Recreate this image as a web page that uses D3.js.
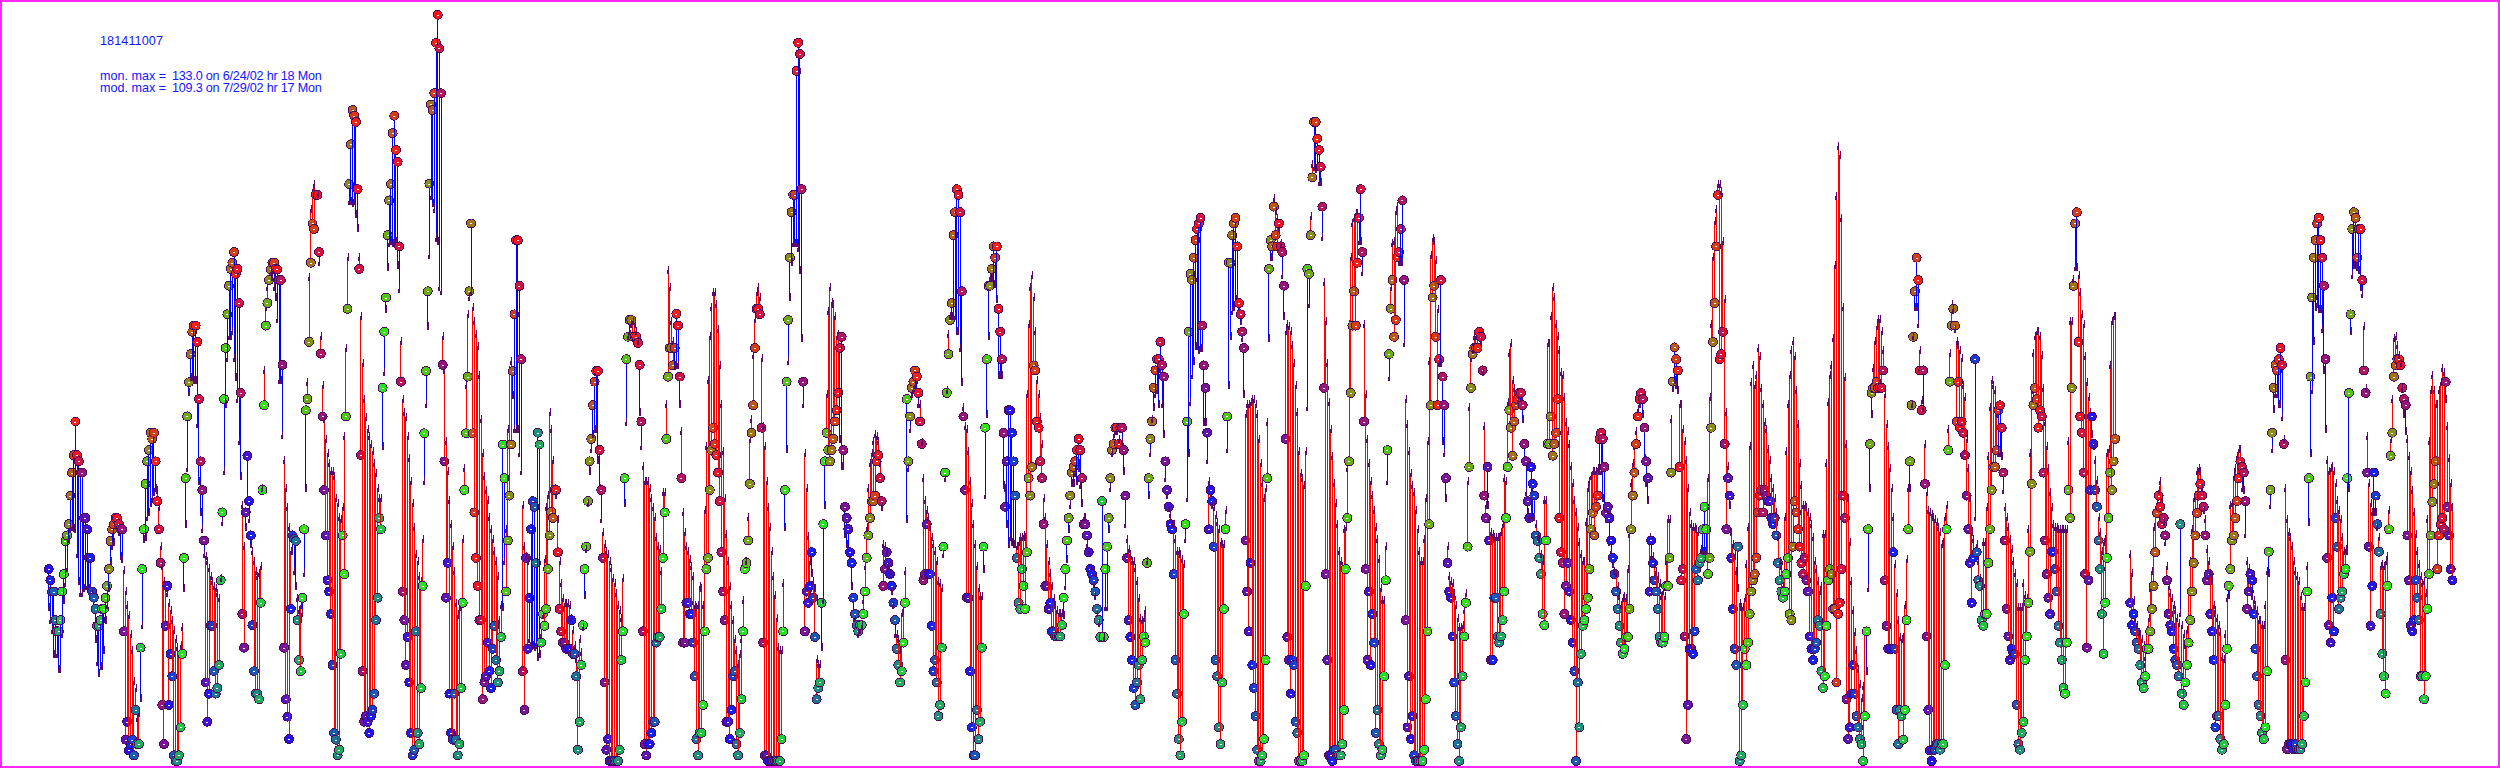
<!DOCTYPE html>
<html>
<head>
<meta charset="utf-8">
<script src="https://cdn.jsdelivr.net/npm/d3@7"></script>
<style>
  html, body { margin: 0; padding: 0; background: #fff; }
  svg { display: block; }
  text { font-family: "Liberation Sans", Arial, sans-serif; font-size: 12.6px; fill: #1414ff; }
</style>
</head>
<body>
<div id="chart"></div>
<script>
const siteId = "181411007";
const statLabels = ["mon. max =", "mod. max ="];
const statValues = ["133.0 on 6/24/02 hr 18 Mon", "109.3 on 7/29/02 hr 17 Mon"];
const firstDay = new Date(2002, 5, 15);

// hourly monitor values, one row per day starting 6/15/02 hr 0
const monitor = [
null,34.2,32.2,30.2,30.2,25.1,23.1,23.1,25.1,30.2,33.3,39.2,40.2,42.2,47.3,51.4,54.5,60.5,54.5,53.4,51.4,51.4,43.3,43.3,
41.3,36.2,36.2,30.2,29.1,27.1,24.1,24.1,25.1,27.1,27.1,29.1,31.2,34.2,39.2,41.3,42.2,43.3,43.3,42.2,41.3,41.3,23.1,3.8,
7,1.9,3,3.8,1,9.1,3,3,20.2,34.2,41.3,49.4,53.4,55.4,58.5,57.4,58.5,53.4,46.3,41.3,35.3,10,3,24.1,
31.2,10,19.1,15.1,1,0,0,1,6,19.1,36.2,50.4,61.4,67.5,72.5,76.5,77.6,77.6,74.7,64.5,53.4,48.3,39.3,14,
7,12,24.1,24.1,16,12,13,17.1,32.2,44.3,64.5,73.6,79.6,84.7,87.7,88.8,90.7,86.8,87.7,81.6,65.6,26.2,20.2,44.3,
54.4,46.3,40.2,24.2,16,12,12,11,28.2,48.3,63.4,77.6,81.6,85.7,87.6,88.8,88.8,87.7,87.6,85.7,85.7,70.6,20.2,11,
7.9,3.9,27.1,40.2,39.6,39.2,25.1,18,16,29.1,41.3,62.5,64.5,74.7,88.8,95.8,94.8,100.9,100.9,90.7,72.6,61.4,48.3,40.2,
32.2,30.2,26.2,17.1,5,3.8,1,2,19.1,40.2,33.3,61.4,80.6,102.8,109.9,116,115,113.9,101.9,87.7,54.5,16,7,8,
7,5,8,9.1,12,25.1,29.1,43.3,41.3,66.5,76.5,82.6,93.7,99.9,102.8,111.9,115,108.9,106.8,91.7,67.6,30.2,25.1,17.1,
22.1,14,5,1,2,23.1,5,3,13,31.2,58.4,69.5,83.7,102.9,117,116,119,128,133,127,119,70.6,53.4,29.1,
35.3,12,5,3.8,12,3.8,1,3,13,28.2,48.3,58.4,68.5,83.7,95.8,58.4,44.3,36.2,31.2,25.1,25.1,11,14,15.1,
21.1,16,13,20,24.1,18,14,16,22.1,56.4,50.4,30.2,39.3,47.3,56.4,69.5,79.6,92.8,92.8,84.7,71.6,16,9.1,36.2,
20,29.1,41.3,46.3,45.3,35.3,58.5,56.4,21.1,26.2,24.1,27.1,34.2,40.2,44.4,43.3,48.3,48.3,37.2,27.1,23.1,21.1,21.1,20,
20,20,25.1,19.1,19.1,15.1,2,7,17.1,24.2,34.2,38.2,46.3,53.4,57.4,63.4,67.6,69.5,69.5,55.4,48.3,36.2,14,2,
3.9,0,0,0,0,0,0,2,18,23.1,50.4,71.6,75.6,78.6,78.6,75.6,75.6,75.6,74.5,70.6,60.5,23.1,3,1,
3,3,5,7,7,21.1,22.1,22.1,27.1,36.2,44.3,57.4,68.5,73.6,73.6,70.5,73.6,79.7,77.6,68.5,50.4,21.1,21.1,28.2,
28.2,26.2,26.2,21.1,15.1,3.9,1,5,5,10,23.1,34.2,36.2,48.3,55.4,59.4,56.5,54.5,51.4,46.3,37.2,30.2,25.1,7,
7,3.9,9.1,15.1,16,3,1,5,11,23.1,34.2,35.3,39.3,49.4,58.5,63.4,73.6,80.6,80.6,79.6,59.4,21.1,1,1,
0,0,0,0,0,0,0,0,3.9,23.1,48.3,67.6,78.6,89.7,97.8,100.9,100.9,123,128,126,101.9,67.6,23.1,30.2,
28.2,31.2,37.2,29.1,22.1,11,13,14,28.2,42.2,53.4,58.5,55.4,53.4,55.4,57.4,60.5,62.5,65.6,73.6,75.6,55.4,45.3,43.3,
41.3,37.2,35.3,29.1,26.2,24.2,23.1,24.2,24.2,26.2,30.2,36.2,40.2,43.3,46.3,46.3,47.3,53.4,54.5,50.4,46.3,31.2,34.2,37.2,
35.3,33.3,31.2,28.2,25.1,20,17.1,14,16,21.1,28.2,64.5,53.4,61.4,66.5,67.6,69.6,68.5,65.6,60.5,56.5,32.2,33.3,42.2,
33.3,33.3,24.1,16,18,14,8,10,20.2,38.2,51.4,65.6,72.5,78.6,81.6,93.7,97.8,101.9,100.9,97.8,83.7,61.4,48.3,29.1,
29.1,16,6,1,1,9.1,3.9,7,20.2,38.2,59.4,71.6,84.7,84.7,87.7,91.7,89.7,91.7,80.6,76.5,71.6,58.5,45.3,53.4,
62.5,62.5,58.5,53.4,47.3,36.2,28.2,27.1,34.2,31.2,27.1,37.2,50.4,47.3,52.4,70.5,69.6,60.5,59.4,53.4,50.4,42.2,31.2,31.2,
27.1,28.2,23.1,23.1,22.2,22.2,22.2,22.2,24.2,29.1,34.2,39.3,43.3,47.3,51.4,52.4,53.4,55.4,57.4,55.4,50.4,42.2,42.2,40.2,
37.2,34.2,33.3,32.2,30.2,27.1,25.1,22.1,46.3,22.1,34.2,38.2,43.3,50.4,55.4,56.5,59.4,59.4,56.5,59.4,59.4,55.4,47.3,36.2,
25.1,22.1,18,13,10,14,17.1,11,18,22.2,21.1,35.3,50.4,57.4,60.5,66.5,69.6,71.6,71.6,74.7,70.6,68.5,53.4,48.3,
45.3,42.2,41.3,33.3,18,12,3.9,1,7,26.2,42.2,60.5,76.5,86.8,85.7,89.7,92.8,94.8,95.8,96.8,77.6,70.5,66.5,58.5,
41.3,48.3,46.3,38.2,18,15.1,6,3,14,27.1,41.3,61.4,88.8,88.8,93.7,95.8,96.8,91.7,81.6,79.6,76.5,73.6,39.3,30.2,
23.1,35.3,17.1,13,8,2,0,0,1,3.9,18,50.4,87.7,92.8,91.7,98.8,93.7,91.7,95.8,91.7,90.7,84.7,57.4,22.1,
18,12,18,17.1,7,5,0,0,0,1,31.2,87.7,86.8,93.7,104,113.9,113.9,110.9,108.9,105.9,98.8,66.5,33.3,18,
1,1,0,2,2,1,1,1,3,9.1,34.2,43.3,53.4,65.6,77.6,83.7,77.6,88.8,96.8,101.9,90.7,60.5,34.2,18,
30.2,17.1,26.2,21.1,5,9.1,3,1,2,15.1,32.2,55.4,72.5,80.6,85.7,75.6,78.6,89.8,90.7,94.8,99.9,85.7,25.1,6,
15.1,3.9,8,1,0,0,0,0,0,2,11,23.1,42.2,63.4,82.6,84.7,75.6,63.4,71.6,85.7,68.5,63.4,50.4,35.3,
30.2,29.1,22.2,14,8,3,0,6,15.1,22.2,28.2,38.2,52.4,66.5,72.5,73.6,73.6,73.6,76.5,75.6,69.6,47.3,43.3,52.4,
39.3,18,18,29.1,29.1,22.2,21.1,22.2,25.1,30.2,43.3,52.4,62.5,59.4,54.4,60.5,63.4,64.5,65.6,65.6,63.4,56.5,53.4,46.3,
43.3,52.4,49.4,47.3,40.2,39.2,36.2,33.3,26.2,24.2,39.3,56.5,56.5,61.4,54.4,56.5,58.5,64.5,43.3,37.2,35.3,26.2,31.2,35.3,
30.2,25.1,21.1,16,0,14,6,19.1,24.1,25.1,27.1,29.1,34.2,41.3,44.2,40.2,45.3,47.3,57.4,58.5,57.4,52.4,44.2,45.3,
43.3,39.3,36.2,33.3,30.2,27.1,24.1,21.1,19.1,20,22.1,22.1,27.1,41.3,47.3,51.4,56.5,61.4,64.5,65.6,64.5,59.4,53.4,50.4,
30.2,39.3,35.3,32.2,30.2,27.1,22.1,21.1,21.1,22.1,31.2,31.2,36.2,51.4,67.6,73.7,71.6,69.6,52.4,32.2,34.2,22.2,3.9,10,
20,20,19.1,23.1,34.2,32.2,35.3,36.2,41.3,45.3,41.3,33.3,36.2,59.4,74.7,81.6,91.7,100.9,71.6,72.5,76.5,56.5,41.3,50.4,
47.3,36.2,27.1,20,17.1,38.2,0,1,10,20,17.1,21.1,26.2,30.2,32.2,33.3,36.2,44.3,47.3,48.3,44.3,48.3,47.3,46.3,
46.3,43.3,42.2,43.3,40.2,35.3,32.2,30.2,29.1,30.2,33.3,36.2,26.2,25.1,38.2,46.3,44.3,41.3,38.2,35.3,33.3,36.2,32.2,30.2,
22.2,20,18,20,21.1,25.1,24.1,16,13,15.1,24.1,32.2,34.2,33.3,27.1,27.1,14,26.2,28.2,34.2,47.3,43.3,11,3.9,
6,12,17.1,12,8,6,3.9,3,0,8,23.1,41.3,56.5,65.6,66.5,66.5,67.6,66.5,66.5,66.5,69.6,32.2,24.1,20,
20,20,37.2,20,9.1,3,9.1,8,3.8,9.1,25.1,41.3,53.4,63.4,75.6,83.7,89.7,85.7,69.6,62.5,69.6,49.4,22.2,9.1,
1.9,0,2,2,3,3,2,3,3,17.1,41.3,55.4,67.6,77.6,80.6,77.6,60.5,67.6,59.4,60.5,58.5,54.5,47.3,41.3,
35.3,28.2,36.2,71.6,37.2,32.2,31.2,25.1,24.1,26.2,26.2,35.3,41.3,48.3,52.4,52.4,55.4,62.5,63.4,59.4,51.4,39.3,27.1,22.2,
18,20,19.1,19.1,10,3,2,5,7,18,22.2,28.2,37.3,49.4,63.4,66.5,64.5,59.4,62.5,61.4,51.4,39.3,33.3,29.1,
26.2,37.3,37.3,34.2,30.2,24.1,21.1,18,13,12,21.1,48.3,43.3,66.5,84.7,95.8,97.8,74.7,61.4,58.5,51.4,33.3,20.2,32.2,
48.3,61.4,56.5,48.3,45.3,39.3,34.2,26.2,19.1,28.2,36.2,43.3,51.4,48.3,53.4,57.4,null,null,null,null,null,null,null,null,
28.2,24.2,26.2,23.1,21.1,20,17.1,14,13,15.1,20,20,23.1,27.1,31.2,37.2,44.2,47.3,45.3,42.2,43.3,40.2,32.2,26.2,
24.2,23.1,20,18,17.1,15.1,42.2,12,10,14,17.1,21.1,25.1,30.2,35.3,40.2,44.2,47.3,49.4,47.3,45.3,40.2,32.2,33.3,
26.2,23.1,18,6,8,8,3.9,2,3,10,20,31.2,34.2,39.3,40.2,43.3,46.3,50.4,53.4,52.4,51.4,46.3,27.1,30.2,
33.3,32.2,26.2,20,15.1,10,8,5,3.9,6,16,37.3,48.3,58.5,66.5,70.6,69.6,71.6,73.6,70.6,56.5,18,2.1,3,
3,3,2.1,3,2.1,2.1,2.1,3,8,14,30.2,50.4,68.5,82.6,89.7,92.8,95.8,96.8,92.8,89.7,84.7,71.6,36.2,24.2,
21.1,29.1,23.1,43.3,38.2,27.1,29.1,30.2,33.3,34.2,50.4,65.6,79.6,94.8,97.8,96.8,89.7,94.8,94.8,85.7,69.6,65.6,51.4,38.2,
24.1,31.2,51.4,47.3,42.2,37.3,26.2,19.1,15.1,12,31.2,41.3,54.4,58.5,68.5,70.5,71.6,71.6,70.5,66.5,64.5,63.4,40.2,32.2,
24.1,23.1,25.1,32.2,29.1,25.1,15.1,15.1,11,15.1,27.1,33.3,40.2,46.2,49.4,53.4,34.2,40.2,42.2,43.3,41.3,67.6,45.3,40.2,
34.2,32.2
];

// hourly model values, same layout
const model = [
null,27,24.8,23,18.7,18.7,18.7,16,16,22.2,28.3,31.3,34,39.2,41,41.4,41.2,41,36.6,31.8,29.6,29.6,30.4,30.9,
30.9,30.4,30.4,29.6,26.5,21.3,17.3,15.3,16.5,16.5,19.5,24.8,27.4,30.4,35.3,37.9,38.7,42.2,41.4,40.5,36.1,35.7,33.7,30,
27.4,25.6,22.2,19.5,13.9,12.6,7.3,8.2,10.8,23.9,39.2,39.6,43.1,44,45.7,46.6,47.5,48.3,47.9,44.9,37.9,34.4,31.8,30.4,
29.6,27.8,26.5,24.8,23,21.3,20,18.7,20.4,23.5,30.4,41.8,51.8,65.4,68,68,67.6,67.6,59.7,49.6,44,41,36.6,36.1,
35.3,34,32.6,31.8,30.9,30.4,29.6,28.7,32.2,42.2,51.4,63.2,71.5,75.4,75.4,76.3,71.5,68,64.1,56.6,50.5,45.3,37.9,41.3,
46.6,42.7,38.3,37,35.3,33.5,32.6,33.1,34.4,48.3,69.3,80.6,84.1,87.2,86.8,85.9,84.1,82.4,78.5,67.6,67.6,57.7,53.2,48.3,
44.9,41.4,37,37,33.5,30.9,28.7,26.5,27.4,26.1,33.1,48.3,67.1,85.9,98.1,101.6,102.5,100.7,100.7,88.5,75.4,66.7,60.6,57.1,
54.5,52.7,51.4,51.4,50.5,46.6,45.7,43.1,42.7,44.9,57.5,73.2,89.4,99.4,99.4,99,99.4,97.2,94.6,89.4,78.9,70.6,64.1,61,
58.8,57.5,56.2,54.9,52.7,51,48.3,46.6,46.6,55.8,68.9,80.2,87.6,92,92.4,92,92,92.4,88,83.7,74.5,64.1,61.9,61,
57.5,53.6,49.6,45.7,41.4,36.6,35.3,32.6,31.8,39.2,49.6,63.2,77.2,89.8,100.3,99,98.1,92.9,92.4,84.1,83.4,75.4,69.3,56.6,
51.4,46.2,41.8,37.9,33.5,27.8,25.6,26.5,27,39.2,51.8,66.7,79.3,82.4,83.3,80.6,78,75.8,73.6,68.4,60.6,54.5,50.5,47.9,
46.2,43.1,41,39.2,37,35.3,32.6,24.8,27.4,27,35.3,41,58.8,69.3,71,64.9,58.8,58.8,58.8,54.5,51.4,45.3,37.9,36.1,
35.3,21.3,20.9,20.4,20,20.4,18.2,18.7,22.2,25.6,35.7,44.9,47,61.9,58.8,53.2,48.3,47,42.7,35.3,31.3,28.7,27.8,27.8,
27.8,27.4,25.2,23,20.4,17.8,16.9,21.3,19.1,23.5,29.2,37.4,45.7,51.4,55.3,58,58.8,58.8,53.2,48.3,42.7,40.5,38.3,37,
36.6,35.3,34,32.2,31.3,29.6,27.4,26.5,25.2,32.2,45.7,60.1,75.4,75.8,77.6,78,77.6,76.3,74.5,61.9,55.8,52.3,49.6,49.6,
49.6,48.3,46.6,44.9,43.1,39.6,37.9,37.4,33.5,47.5,47.5,63.2,87.2,84.1,78,74.5,70.2,70.2,70.2,63.2,58.4,44,40.5,37.9,
37,35.7,34.4,32.6,27.4,27,27.4,30.9,30.4,27.4,44.4,55.8,67.6,75.4,80.6,83.3,83.3,81.1,76.7,70.2,63.2,54.9,46.6,40.1,
35.3,30.9,27.4,24.8,21.3,19.5,16.9,18.7,21.3,28.3,35.3,35.3,43.1,57.1,60.6,72,78.5,83.3,84.1,82.4,71.5,59.3,55.8,49.6,
44.9,41.4,37,32.6,29.2,25.2,20,19.5,19.5,31.3,41.4,55.3,71,82.4,88.5,92,92,92,91.1,87.2,75,63.2,54.5,48.3,
39.7,35.3,33.1,31.8,30.4,17.8,16.9,16.9,19.9,28.3,45.3,65,79.8,84.1,81.5,81.1,78.9,75.4,75.8,57.1,52.3,52.3,40.1,38.3,
37,35.3,30.9,24.3,24.8,23.9,22.2,23,23.9,28.3,34.4,41.4,48.3,52.7,54.5,56.7,58,57.5,56.7,52.7,44.9,38.3,37.9,37,
34.4,33.1,30,27.4,22.2,22.2,21.3,19.5,26.1,26.5,33.5,42.7,51.8,58.8,65,65.8,66.7,65.4,63.2,63.2,56.5,50.1,46.2,44.4,
43.1,41.4,39.6,38.3,37,35.3,31.8,31.3,30.4,36.6,50.1,65.8,75.8,78.9,78.9,78.9,78.9,76.3,76.3,73.2,67.1,62.7,59.3,58.8,
54.9,49.6,45.7,41.8,38.3,34.4,30.4,29.1,29.1,33.9,47,61.4,75.4,85.9,85.9,84.6,84.6,82,68.4,68.4,68.4,48.8,48.3,41.8,
38.3,39.6,38.7,38.3,38.3,37.9,38.7,39.6,39.6,40,39.6,65,77.6,84.1,86.3,82.4,76.3,67.6,65,61,56.2,46.6,43.1,38.3,
35.3,33.1,30.9,28.7,27.4,26.5,26.1,26.1,26.1,25.6,30.9,35.7,41,45.3,49.2,49.2,51,49.6,51.8,48.8,45.7,43.1,43.1,38.3,
37,33.5,32.2,30.9,29.1,25.6,24.3,21.7,22.2,21.7,27,27,41,48.3,54.5,57.9,58.4,58.4,57.1,58.8,56.7,51.4,41.8,39.2,
37.4,36.6,35.3,35.3,34,31.8,28.7,25.2,24.8,25.2,26.5,35.3,47,54.5,60.6,62.8,65,65.8,63.2,68.4,63.2,58,50.1,47,
44.9,43.6,41.8,41.8,39.2,37,37,36.6,35.7,34.8,39.2,46.6,54.5,63.6,68.4,71,73.6,73.6,72.8,73.2,73.2,60.1,60.1,53.2,
49.6,47,45.3,44.9,43.5,42.2,41,38.7,38.3,38.3,44.4,55.3,66.7,75.4,79.8,80.6,82,82,79.8,78,75,65,61.4,63.2,
63.2,63.6,64.1,64.1,63.2,61.4,57.1,52.7,49.2,46.6,48.3,60.1,75,89.4,89.4,99.9,97.7,96.4,94.6,92,86.3,78.9,76.3,77.6,
77.2,76.3,73.7,70.6,66.7,61.9,54.9,51,50.1,48.8,54.9,62.7,81.1,96.8,106,105.5,105.1,105.5,102.9,102.9,93,85,78,70.6,
63.6,58.8,54,49.2,45.7,41.8,37,35.3,34.4,41,41.4,51.8,77.6,89.4,95.5,96.4,97.3,97.3,92.4,92.4,86.8,77.6,65,57.1,
52.7,49.6,47,44.4,41.4,39.2,35.7,30.4,28.3,28.3,37.9,49.6,68,84.2,92,92.4,97.7,98.6,88.5,88.5,88.5,74.1,64.1,59.7,
54.9,51,48.8,47.5,44.4,41,37,35.3,35.3,39.2,46.6,56.7,71,89.8,92.9,92.4,89,80.2,70.6,70.6,56.7,54.5,46.6,37.9,
32.6,31.8,31.3,29.6,27.4,25.2,23.5,23.5,23.9,26.5,29.6,49.6,62.8,71.5,72.8,75.4,75.4,75.4,75.4,74.5,68.9,59.3,45.3,45.3,
42.7,40.5,40.1,39.6,39.6,39.6,39.6,40.5,41.8,50.1,49.6,63.6,72.4,74.1,67.6,66.2,64.9,64,64.9,64,60.6,53.2,47.5,44,
43.1,43.5,43.1,43.1,41.8,39.6,39.2,36.6,35.3,46.2,46.2,74.1,74.1,78.9,84.1,82.4,77.6,75.4,72.8,68.9,68.4,64.5,60.1,58.4,
56.2,52.3,49.2,46.2,44,41.4,38.7,36.6,35.3,35.3,42.2,48.3,49.6,50.5,51.4,51.4,51.4,51.8,51.4,51.4,46.6,44.9,42.7,42.7,
38.7,37,34.8,33.5,33.1,30.9,29.1,27.4,28.7,29.1,28.7,33.9,40.1,49.2,52.7,55.8,58.4,62.3,63.2,64,61.4,53.6,49.2,46.2,
39.6,36.1,36.1,34.8,33.5,32.6,31.3,29.1,30,29.1,35.3,42.7,42.7,60.6,66.2,67.6,66.7,65.8,63.2,63.2,58.8,56.7,53.2,48.3,
44,41.8,41.4,41.4,41,40.5,36.6,37.4,37,37,36.6,50.1,64.5,77.6,89.4,95.9,98.1,102.5,102.5,101.2,92.4,82,61.9,52.3,
45.3,40.5,38.3,36.6,33.5,30.4,27.8,27,27,28.7,34.8,41.4,55.8,67.1,70.2,66.7,68.4,73.2,71.9,66.2,63.2,60.1,58.8,55.3,
53.2,50.1,48.3,46.6,44,39.6,35.3,34.4,30.9,43.1,54.9,63.2,68.4,72.8,74.5,71.9,65.8,59.7,52.7,48.8,45.3,45.3,44.9,44,
43.1,41.8,39.6,35.3,33.9,31.8,30,30.9,40.1,40.1,52.7,63.6,68.4,70.2,75,88.1,100.3,109.3,107.7,96.4,80.6,68,56.2,46.6,
38.7,31.8,26.5,22.6,19.5,16.1,13.4,10.8,13,22.6,15.6,30.4,48.3,61.4,69.7,74.5,77.2,78.5,78.5,76.3,72.8,65,59.7,55.8,
51.8,48.3,43.1,34.8,29.6,24.8,21.7,21.3,21.7,27.4,35.7,48.3,48.3,63.2,75.4,80.6,80.6,77.6,72.8,64,62.5,56.2,47.5,44.4,
44,43.6,43.1,42.7,42.2,41.4,40.5,38.3,38.7,43.1,45.3,58.8,72.4,81.1,80.2,76.7,74.5,73.7,72.8,71.5,66.7,64.5,57.1,51.8,
46.6,40.5,39.2,43.1,38.3,35.3,32.2,30.9,38.7,38.7,44.9,54,62.7,67.6,66.7,65.8,61.4,54.5,54.5,54,47.9,44.9,43.1,41.4,
39.2,37.4,35.3,33.1,31.3,27,27,27,31.3,29.2,28.7,41,54.5,65.8,72.4,75.4,76.3,76.3,75.4,72,66.2,60.1,55.8,51.8,
47.5,44.9,41.8,41.4,41.4,41,41,41,41,41,41,56.7,78,78,85.5,87.6,87.6,86.3,83.3,79.3,77.6,71.9,67.1,64.5,
61.9,58,55.8,53.2,49.7,43.1,40.5,37,38.7,39.2,54.5,55.3,70.2,78,78.9,78.9,null,null,null,null,null,null,null,null,
36.6,33.1,28.3,25.2,23.9,22.6,22.2,21.3,20.4,18.2,23,25.2,30.4,33.5,41.4,44.4,45.7,47.9,49.6,46.6,42.2,38.7,34.4,30.9,
29.6,28.7,27.4,26.5,25.2,24.3,26.1,23.9,22.2,20.4,23,30,35.3,41,46.6,47,51.4,51.8,51.4,48.3,44.4,42.7,37.4,35.3,
33.1,31.8,27.4,26.5,25.2,23.9,22.6,18.2,17.8,22.2,28.7,29.2,45.3,45.7,50.5,51.8,54,55.3,55.3,48.3,47.9,40.1,35.3,34,
30.4,29.1,28.3,27.4,26.5,24.8,24.8,23.9,23.9,27.4,33.5,33.1,45.3,55.3,62.3,65,65,63.2,63.2,61,57.1,48.3,42.7,40.5,
39.6,37.9,35.3,33.5,32.6,31.8,29.1,27,27,30,34.4,42.2,54.5,65.8,74.5,80.6,81.1,80.2,80.2,76.7,69.3,58.8,53.2,51.4,
51.8,52.3,51.4,49.2,46.2,44.4,42.7,39.6,37,37.4,37,48.3,76.3,86.3,88,88,87.6,87.2,84.1,82.8,77.2,66.2,57.5,49.2,
45.7,44,44,44,41.4,39.6,34.4,34.8,34.4,35.3,36.1,44.4,57.1,64.1,75,75.4,73.7,72,70.6,66.2,61.4,58.4,57.1,54,
51.4,47.9,44,40.1,37,34.8,32.6,31.3,31.8,29.6,42.7,56.7,65.8,68.4,65.8,63.2,63.2,65.8,67.1,69.7,68.9,64.1,59.3,53.6,
49.2,44.9
];

const width = 2500;
const height = 768;

const hours = monitor
  .map((mon, i) => ({ i, mon, mod: model[i], hour: i % 24 }))
  .filter((d) => d.mon !== null && d.mod !== null);

const X = d3.scaleLinear().domain([0, 1441]).range([47.1, 2452.4]);
const Y = d3.scaleLinear().domain([0, 133]).range([761, 14.7]);

// colour follows the hour of day round blue, green, red
const hourColor = d3
  .scaleLinear()
  .domain([1.5, 9.5, 17.5, 25.5])
  .range(["#1414ff", "#28f014", "#ff1414", "#1414ff"]);
const colorOf = (d) => hourColor(d.hour < 1.5 ? d.hour + 24 : d.hour);

const svg = d3
  .select("#chart")
  .append("svg")
  .attr("width", width)
  .attr("height", height);

svg
  .append("rect")
  .attr("x", 1)
  .attr("y", 1)
  .attr("width", width - 2)
  .attr("height", height - 2)
  .attr("fill", "#fff")
  .attr("stroke", "#ff28ff")
  .attr("stroke-width", 2);

const marks = svg
  .append("g")
  .attr("shape-rendering", "crispEdges")
  .selectAll("g")
  .data(hours)
  .join("g");

marks
  .append("line")
  .attr("x1", (d) => X(d.i))
  .attr("x2", (d) => X(d.i))
  .attr("y1", (d) => Y(d.mon))
  .attr("y2", (d) => Y(d.mod))
  .attr("stroke", (d) => (d.mod > d.mon ? "#ff0000" : "#0000ff"))
  .attr("stroke-width", 1);

marks
  .append("circle")
  .attr("cx", (d) => X(d.i))
  .attr("cy", (d) => Y(d.mon))
  .attr("r", 4.5)
  .attr("fill", colorOf)
  .attr("stroke", "#4a0a5c")
  .attr("stroke-width", 1);

marks
  .append("rect")
  .attr("x", (d) => X(d.i) - 1)
  .attr("y", (d) => Y(d.mon))
  .attr("width", 2)
  .attr("height", 1)
  .attr("fill", "#fff");

// model tick, thin on top and thick at the foot
marks
  .append("path")
  .attr("transform", (d) => `translate(${X(d.i)},${Y(d.mod)})`)
  .attr("d", "M-1,2V-2H0V-6H1V2Z")
  .attr("fill", "#5a0a6e");

svg
  .append("text")
  .attr("x", 100)
  .attr("y", 45)
  .attr("letter-spacing", 0.1)
  .text(siteId);

svg
  .selectAll("text.stat-label")
  .data(statLabels)
  .join("text")
  .attr("class", "stat-label")
  .attr("x", 100)
  .attr("y", (d, i) => 80 + i * 12)
  .text((d) => d);

svg
  .selectAll("text.stat-value")
  .data(statValues)
  .join("text")
  .attr("class", "stat-value")
  .attr("x", 172)
  .attr("y", (d, i) => 80 + i * 12)
  .attr("letter-spacing", -0.2)
  .text((d) => d);
</script>
</body>
</html>
